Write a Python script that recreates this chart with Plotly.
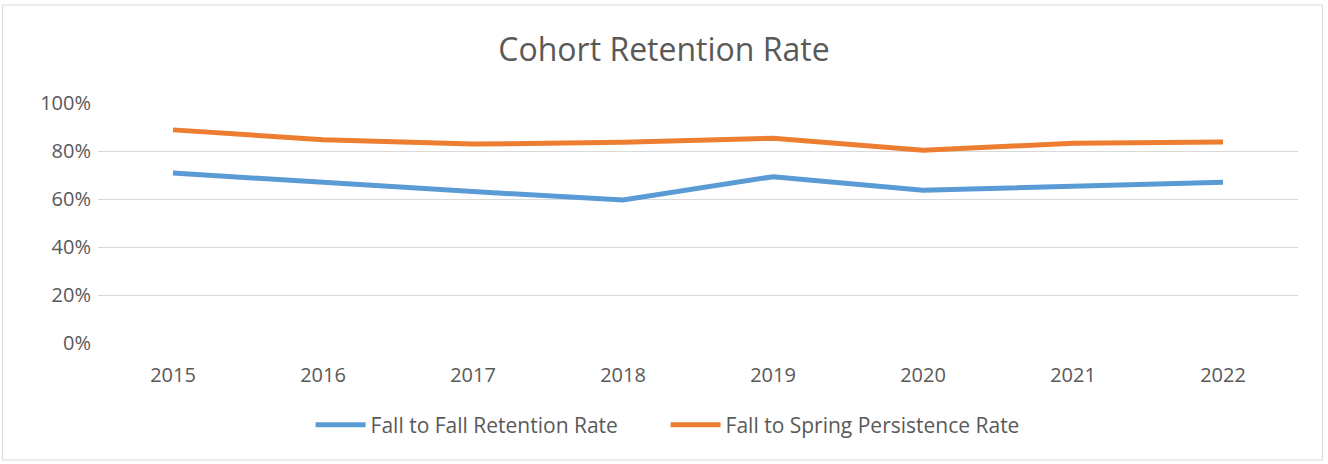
import plotly.graph_objects as go

years = ["2015", "2016", "2017", "2018", "2019", "2020", "2021", "2022"]
fall_to_fall = [0.708, 0.668, 0.631, 0.596, 0.693, 0.636, 0.653, 0.670]
fall_to_spring = [0.888, 0.847, 0.829, 0.836, 0.853, 0.803, 0.832, 0.838]
y_ticks = [0, 0.2, 0.4, 0.6, 0.8, 1.0]
y_tick_labels = ["0%", "20%", "40%", "60%", "80%", "100%"]

text_color = "#595959"
font_family = "Open Sans"

fig = go.Figure()
fig.add_trace(go.Scatter(
    x=years, y=fall_to_fall, mode="lines", name="Fall to Fall Retention Rate",
    line=dict(color="#5B9BD5", width=5),
))
fig.add_trace(go.Scatter(
    x=years, y=fall_to_spring, mode="lines", name="Fall to Spring Persistence Rate",
    line=dict(color="#ED7D31", width=5),
))

fig.update_layout(
    width=1328, height=464,
    margin=dict(l=98, r=30, t=103, b=121, autoexpand=False),
    paper_bgcolor="white", plot_bgcolor="white",
    font=dict(family=font_family, color=text_color, size=19),
    title=dict(text="Cohort Retention Rate", x=0.5, xanchor="center",
               y=1 - 50 / 464, yanchor="middle",
               font=dict(size=32, color=text_color, family=font_family)),
    showlegend=True,
    legend=dict(orientation="h", x=0.473, xanchor="center", y=-0.342, yanchor="middle",
                font=dict(size=21, color=text_color), itemwidth=50,
                entrywidth=290, bgcolor="rgba(0,0,0,0)"),
    shapes=[dict(type="rect", xref="paper", yref="paper",
                 x0=-0.0796, x1=1.0204, y0=-0.4875, y1=1.408,
                 line=dict(color="#D9D9D9", width=1), layer="below")],
)
fig.update_xaxes(
    type="category", range=[-0.5, 7.5], showgrid=False, zeroline=False,
    showline=False, ticks="", tickfont=dict(size=20, color=text_color),
    ticklabelstandoff=18,
)
fig.update_yaxes(
    range=[0, 1.0], tickvals=y_ticks, ticktext=y_tick_labels,
    showgrid=True, gridcolor="#D9D9D9", gridwidth=1, zeroline=False,
    showline=False, ticks="", tickfont=dict(size=20, color=text_color),
    ticklabelstandoff=6,
)
fig.write_html("out.html", config={"displayModeBar": False},
               post_script="document.body.style.margin='0';")
